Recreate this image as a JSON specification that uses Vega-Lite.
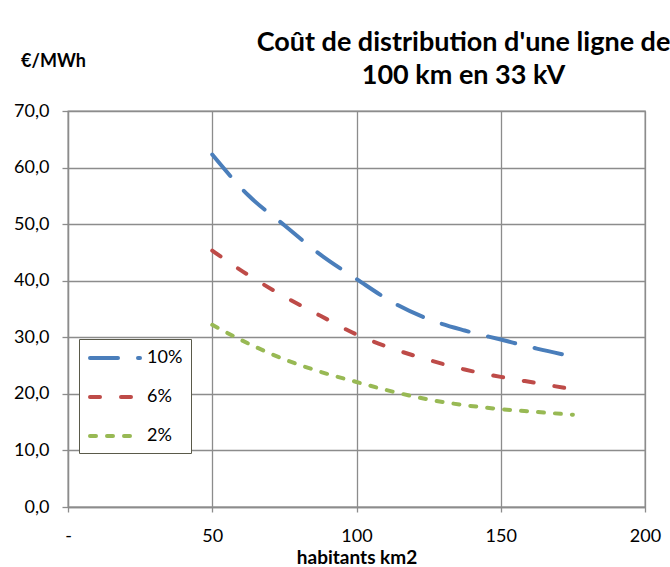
{
  "$schema": "https://vega.github.io/schema/vega-lite/v6.json",
  "autosize": "none",
  "width": 577,
  "height": 396,
  "padding": {"left": 68, "top": 111, "right": 25, "bottom": 60},
  "background": "white",
  "title": {
    "text": ["Coût de distribution d'une ligne de", "100 km en 33 kV"],
    "font": "Lato",
    "fontSize": 27,
    "fontWeight": "bold",
    "color": "#000000",
    "anchor": "middle",
    "dx": 107,
    "dy": 62,
    "lineHeight": 33,
    "offset": 24
  },
  "data": {
    "values": [
      {"x": 50, "y": 62.3, "s": "10%"},
      {"x": 62.5, "y": 55.1, "s": "10%"},
      {"x": 75, "y": 49.8, "s": "10%"},
      {"x": 87.5, "y": 44.6, "s": "10%"},
      {"x": 100, "y": 40.3, "s": "10%"},
      {"x": 112.5, "y": 36.2, "s": "10%"},
      {"x": 125, "y": 33.2, "s": "10%"},
      {"x": 137.5, "y": 31.2, "s": "10%"},
      {"x": 150, "y": 29.6, "s": "10%"},
      {"x": 162.5, "y": 28.0, "s": "10%"},
      {"x": 175, "y": 26.6, "s": "10%"},
      {"x": 50, "y": 45.3, "s": "6%"},
      {"x": 62.5, "y": 41.0, "s": "6%"},
      {"x": 75, "y": 37.2, "s": "6%"},
      {"x": 87.5, "y": 33.8, "s": "6%"},
      {"x": 100, "y": 30.5, "s": "6%"},
      {"x": 112.5, "y": 28.0, "s": "6%"},
      {"x": 125, "y": 26.0, "s": "6%"},
      {"x": 137.5, "y": 24.3, "s": "6%"},
      {"x": 150, "y": 23.0, "s": "6%"},
      {"x": 162.5, "y": 21.9, "s": "6%"},
      {"x": 175, "y": 20.8, "s": "6%"},
      {"x": 50, "y": 32.2, "s": "2%"},
      {"x": 62.5, "y": 28.9, "s": "2%"},
      {"x": 75, "y": 26.1, "s": "2%"},
      {"x": 87.5, "y": 23.9, "s": "2%"},
      {"x": 100, "y": 22.1, "s": "2%"},
      {"x": 112.5, "y": 20.4, "s": "2%"},
      {"x": 125, "y": 19.0, "s": "2%"},
      {"x": 137.5, "y": 18.0, "s": "2%"},
      {"x": 150, "y": 17.3, "s": "2%"},
      {"x": 162.5, "y": 16.8, "s": "2%"},
      {"x": 175, "y": 16.3, "s": "2%"}
    ]
  },
  "mark": {"type": "line", "strokeWidth": 4, "strokeCap": "round", "interpolate": "monotone"},
  "encoding": {
    "x": {
      "field": "x",
      "type": "quantitative",
      "scale": {"domain": [0, 200], "nice": false},
      "axis": {
        "values": [0, 50, 100, 150, 200],
        "title": "habitants km2",
        "labelExpr": "datum.value == 0 ? '-' : datum.label",
        "labelFlush": false,
        "labelPadding": 15,
        "titleFontSize": 19,
        "titleY": 56,
        "titleBaseline": "alphabetic"
      }
    },
    "y": {
      "field": "y",
      "type": "quantitative",
      "scale": {"domain": [0, 70], "nice": false},
      "axis": {
        "values": [0, 10, 20, 30, 40, 50, 60, 70],
        "title": "€/MWh",
        "labelExpr": "replace(format(datum.value, '.1f'), '.', ',')",
        "titleAngle": 0,
        "titleFontSize": 18,
        "titleX": -15,
        "titleY": -45,
        "titleAlign": "center",
        "titleBaseline": "alphabetic",
        "labelPadding": 13,
        "tickSize": 6
      }
    },
    "color": {
      "field": "s",
      "type": "nominal",
      "scale": {"domain": ["10%", "6%", "2%"], "range": ["#4a7ebb", "#be4b48", "#98b954"]},
      "legend": {
        "title": null,
        "orient": "none",
        "legendX": 11,
        "legendY": 228,
        "symbolType": "stroke",
        "symbolSize": 2500,
        "symbolStrokeWidth": 4,
        "labelFont": "Lato",
        "labelFontSize": 18,
        "labelColor": "#000000",
        "labelOffset": 6,
        "rowPadding": 19,
        "padding": 8,
        "fillColor": "white",
        "strokeColor": "#5a5a4a",
        "encode": {
          "symbols": {"update": {"strokeCap": {"value": "round"}, "x": {"value": 28}, "y": {"value": 11}}},
          "labels": {"update": {"y": {"value": 11}}}
        }
      }
    },
    "strokeDash": {
      "field": "s",
      "type": "nominal",
      "scale": {"domain": ["10%", "6%", "2%"], "range": [[28, 20], [10, 21], [6, 11]]},
      "legend": null
    }
  },
  "config": {
    "font": "Lato",
    "view": {"stroke": "#8c8c8c", "strokeWidth": 1.3},
    "axis": {
      "gridColor": "#8c8c8c",
      "gridWidth": 1.3,
      "gridOpacity": 1,
      "domainColor": "#8c8c8c",
      "domainWidth": 1.3,
      "tickColor": "#8c8c8c",
      "tickWidth": 1.3,
      "tickSize": 5,
      "labelFont": "Lato",
      "labelFontSize": 18,
      "labelColor": "#000000",
      "titleFont": "Lato",
      "titleFontSize": 16,
      "titleFontWeight": "bold",
      "titleColor": "#000000"
    },
    "axisX": {"grid": true},
    "axisY": {"grid": true}
  }
}
